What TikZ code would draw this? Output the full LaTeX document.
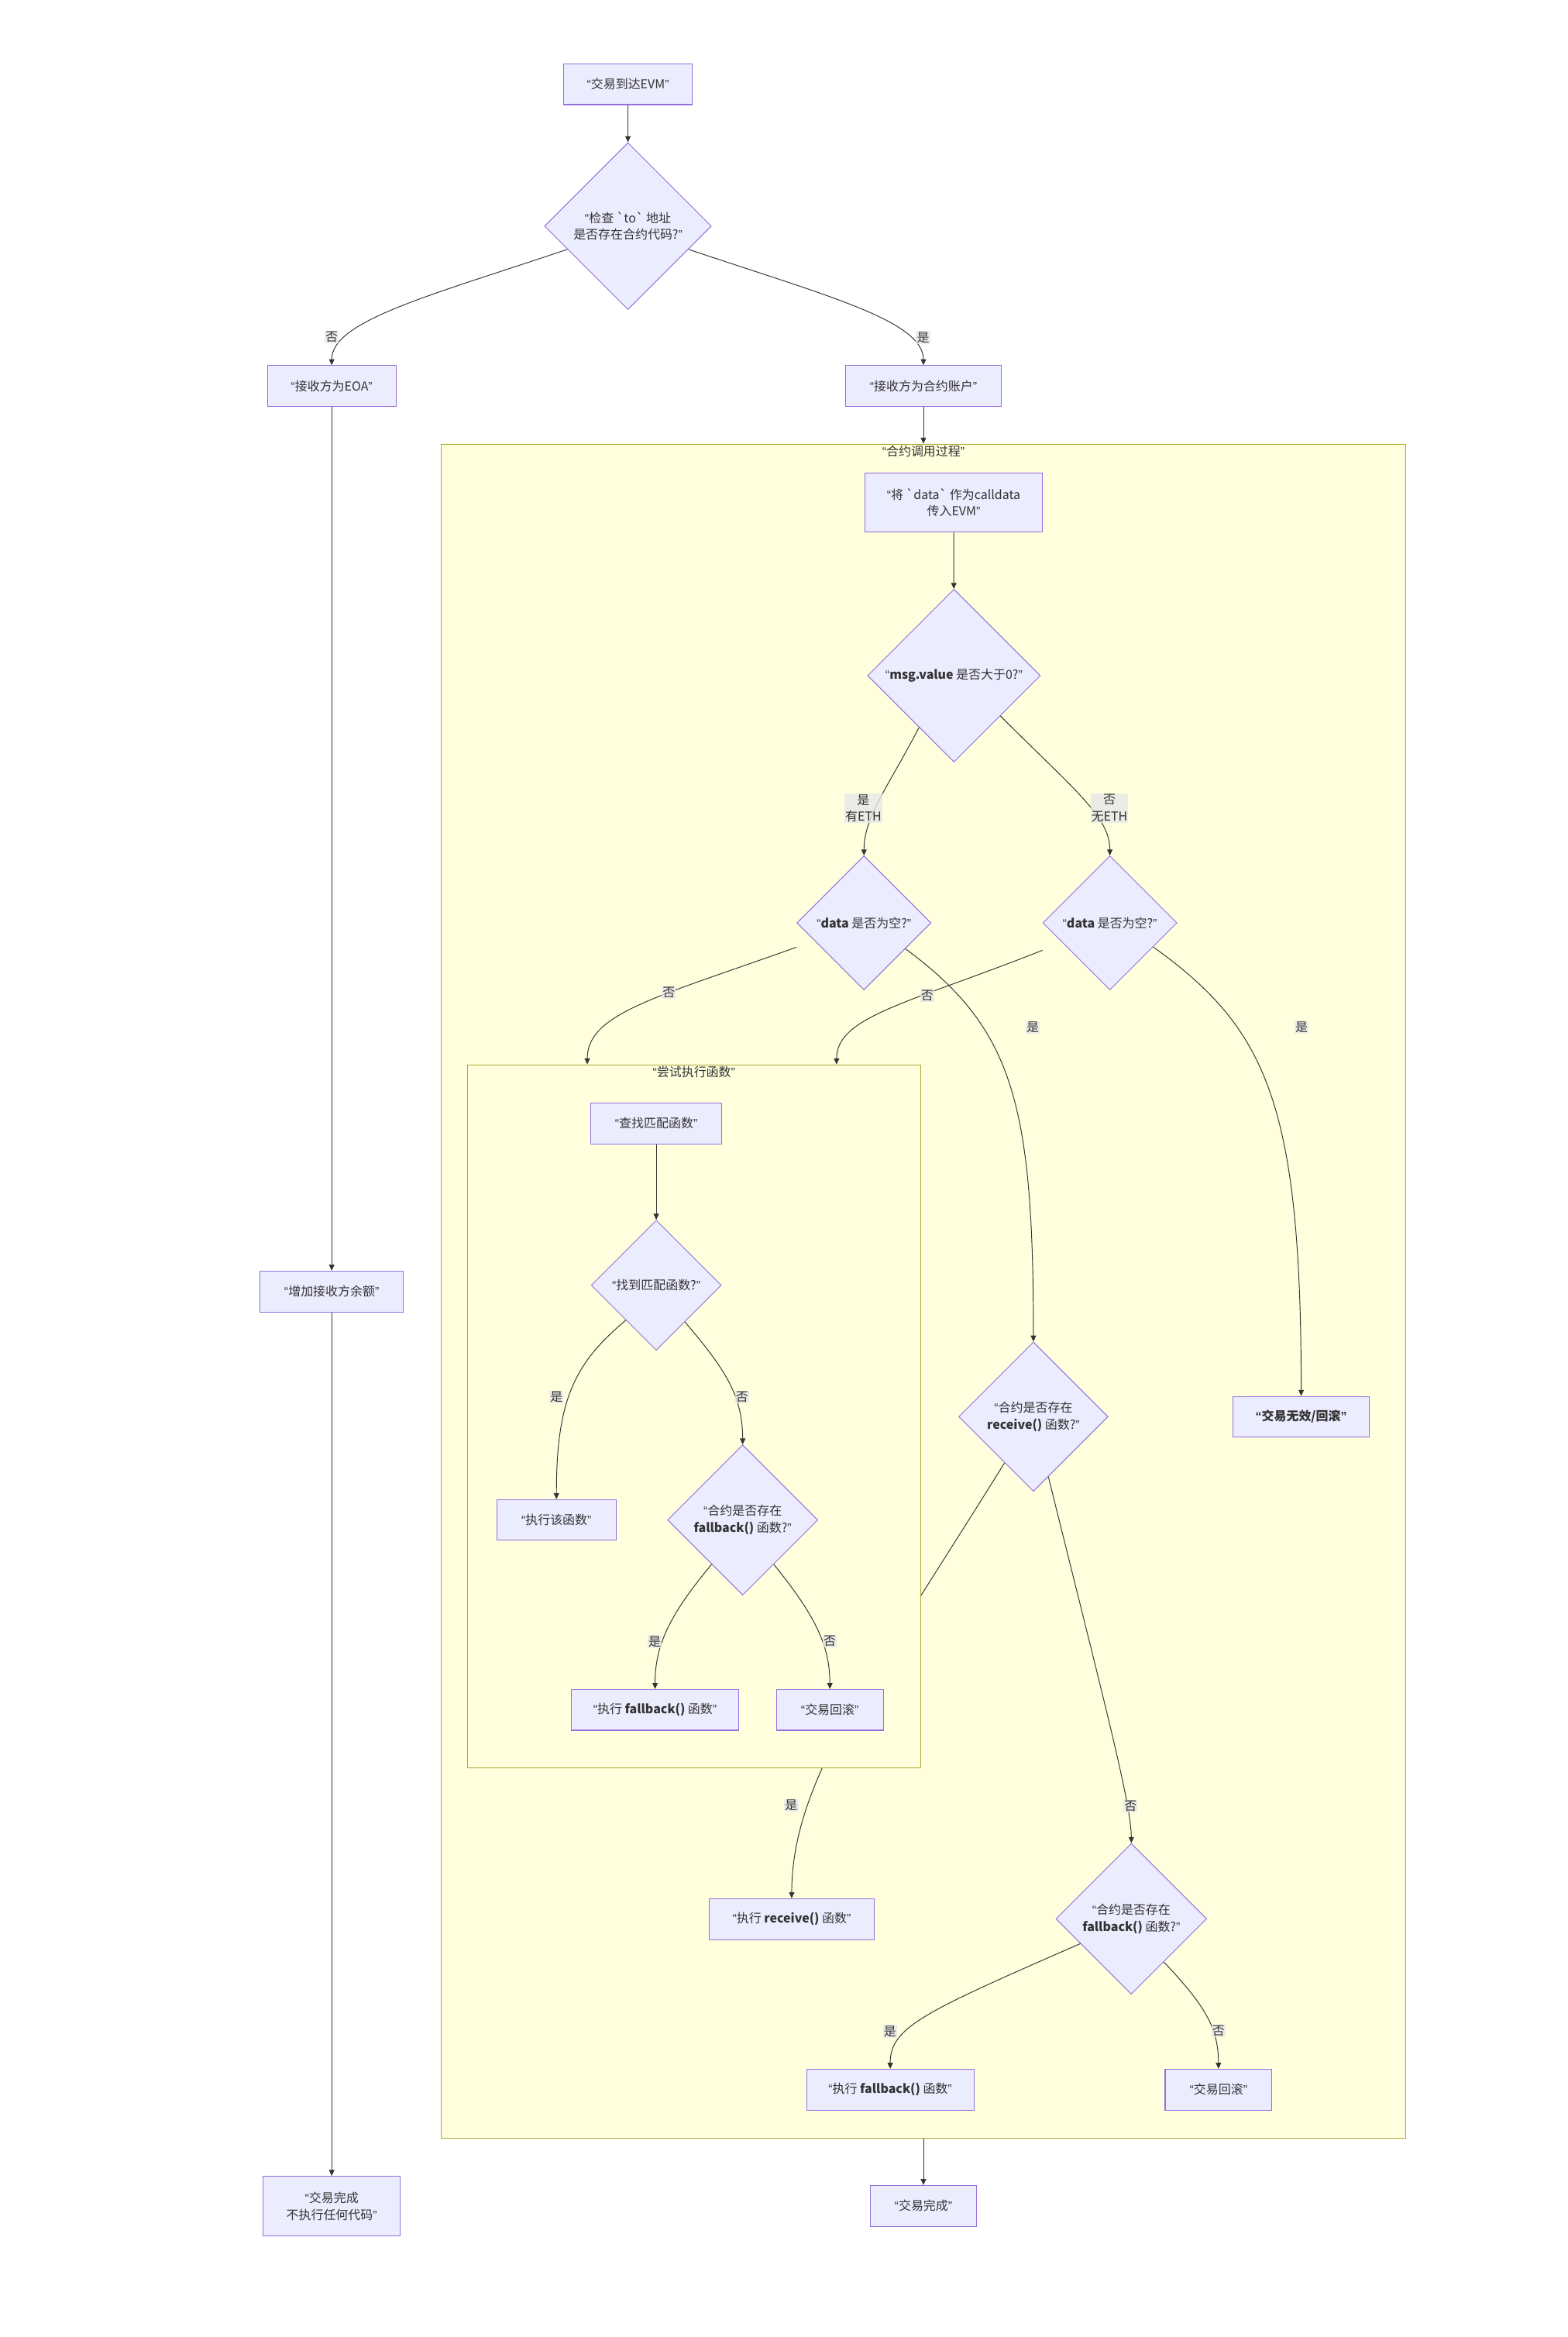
\documentclass[tikz,border=0pt]{standalone}
\usepackage{fontspec}
\setmainfont{Noto Sans CJK SC}
\newfontfamily\qfont{Liberation Sans}
\usetikzlibrary{shapes.geometric,arrows.meta,calc}
\definecolor{nodefill}{HTML}{ECECFF}
\definecolor{nodeline}{HTML}{9370DB}
\definecolor{clusterfill}{HTML}{FFFFDE}
\definecolor{clusterline}{HTML}{AAAA33}
\definecolor{edgeline}{HTML}{333333}
\definecolor{labelfill}{HTML}{E8E8E8}
\newcommand{\qo}{{\qfont “}}
\newcommand{\qc}{{\qfont ”}}
\newcommand{\bq}{\textasciigrave}
\pgfdeclarelayer{back}\pgfdeclarelayer{mid}
\pgfsetlayers{back,mid,main}

\begin{document}
\begin{tikzpicture}[x=1pt,y=-1pt,
  font=\fontsize{8.3}{11.2}\selectfont, text=edgeline,
  box/.style={draw=nodeline, fill=nodefill, line width=0.55pt, inner sep=1pt, minimum height=27.4pt, align=center},
  choice/.style={diamond, aspect=1, draw=nodeline, fill=nodefill, line width=0.5pt, inner sep=0pt, align=center},
  cluster/.style={draw=clusterline, fill=clusterfill, line width=0.55pt, inner sep=0pt},
  edge/.style={draw=edgeline, line width=0.5pt, -{Triangle[length=4pt,width=3.6pt]}},
  lbl/.style={fill=labelfill, fill opacity=0.8, text opacity=1, inner sep=0.6pt, align=center}]
\useasboundingbox (0,0) rectangle (1052.2,1568);
% left column
\node[box, minimum width=86] (arrive) at (421.4,56.5) {\qo 交易到达EVM\qc};
\node[choice, minimum size=112] (hascode) at (421.4,151.7) {\qo 检查 \bq to\bq{} 地址\\是否存在合约代码?\qc};
\node[box, minimum width=86.3] (eoa) at (222.6,259) {\qo 接收方为EOA\qc};
\node[box, minimum width=104.2] (caddr) at (619.7,259) {\qo 接收方为合约账户\qc};
\node[box, minimum width=96] (balance) at (222.6,866.5) {\qo 增加接收方余额\qc};
\node[box, minimum width=92, minimum height=40] (eoadone) at (222.6,1480.2) {\qo 交易完成\\不执行任何代码\qc};
% clusters
\begin{pgfonlayer}{back}
\node[cluster, minimum width=647.4, minimum height=1136.4] (call) at (619.7,866.2) {};
\end{pgfonlayer}
\begin{pgfonlayer}{mid}
\node[cluster, minimum width=304, minimum height=471.9] (try) at (465.7,950.35) {};
\end{pgfonlayer}
\node[anchor=north, inner sep=1pt] (calltitle) at (call.north) {\qo 合约调用过程\qc};
\node[anchor=north, inner sep=1pt] (trytitle) at (try.north) {\qo 尝试执行函数\qc};
% contract call
\node[box, minimum width=118.7, minimum height=39.6] (calldata) at (640,337.2) {\qo 将 \bq data\bq{} 作为calldata\\传入EVM\qc};
\node[choice, minimum size=116] (value) at (640.2,453.3) {\qo\textbf{msg.value} 是否大于0?\qc};
\node[choice, minimum size=90] (dataeth) at (579.8,619.2) {\qo\textbf{data} 是否为空?\qc};
\node[choice, minimum size=90] (datanoeth) at (744.8,619.2) {\qo\textbf{data} 是否为空?\qc};
\node[box, minimum width=87.7] (lookup) at (440.4,753.7) {\qo 查找匹配函数\qc};
\node[choice, minimum size=87.3] (found) at (440.4,862.3) {\qo 找到匹配函数?\qc};
\node[box, minimum width=80] (runfn) at (373.4,1019.8) {\qo 执行该函数\qc};
\node[choice, minimum size=100.8] (hasfb) at (498.4,1019.8) {\qo 合约是否存在\\\textbf{fallback()} 函数?\qc};
\node[box, minimum width=112.2] (runfb) at (439.6,1147.2) {\qo 执行 \textbf{fallback()} 函数\qc};
\node[box, minimum width=71.7] (revfb) at (556.9,1147.2) {\qo 交易回滚\qc};
\node[choice, minimum size=100.2] (hasrecv) at (693.5,950.5) {\qo 合约是否存在\\\textbf{receive()} 函数?\qc};
\node[box, minimum width=91.2] (invalid) at (873.2,950.6) {\textbf{\qo 交易无效/回滚\qc}};
\node[box, minimum width=110.6] (runrecv) at (531.3,1287.6) {\qo 执行 \textbf{receive()} 函数\qc};
\node[choice, minimum size=101.2] (hasfb2) at (759.2,1287.4) {\qo 合约是否存在\\\textbf{fallback()} 函数?\qc};
\node[box, minimum width=112.3] (runfb2) at (597.4,1402) {\qo 执行 \textbf{fallback()} 函数\qc};
\node[box, minimum width=71.6] (revfb2) at (817.7,1402) {\qo 交易回滚\qc};
\node[box, minimum width=71.2] (done) at (619.7,1480) {\qo 交易完成\qc};
% connectors
\draw[edge] (arrive) -- (hascode);
\draw[edge] (hascode.201) .. controls (290,198) and (222.6,215) .. (eoa.north);
\draw[edge] (hascode.339) .. controls (553,198) and (619.7,215) .. (caddr.north);
\draw[edge] (eoa) -- (balance);
\draw[edge] (balance) -- (eoadone);
\draw[edge] (caddr) -- (call.north);
\draw[edge] (calldata) -- (value);
\draw[edge] (value.236) .. controls (596,528) and (579.8,548) .. (dataeth.north);
\draw[edge] (value.319) .. controls (721,530) and (744.8,548) .. (datanoeth.north);
\draw[edge] ($(dataeth.west)+(0,16.3)$) .. controls (440,669.3) and (394.1,680) .. ($(try.north)+(-71.6,0)$);
\draw[edge] ($(datanoeth.west)+(0,18.4)$) .. controls (609.3,673.3) and (561.4,682) .. ($(try.north)+(95.7,0)$);
\draw[edge] (dataeth.328) .. controls (680,690) and (693.5,740) .. (hasrecv.north);
\draw[edge] (datanoeth.331) .. controls (850,690) and (873.2,740) .. (invalid.north);
\draw[edge] (lookup) -- (found);
\draw[edge] (found.229) .. controls (385,915) and (373.4,940) .. (runfn.north);
\draw[edge] (found.308) .. controls (485,917) and (498.4,935) .. (hasfb.north);
\draw[edge] (hasfb.235) .. controls (448,1085) and (439.6,1105) .. (runfb.north);
\draw[edge] (hasfb.305) .. controls (548,1085) and (556.9,1105) .. (revfb.north);
\begin{pgfonlayer}{back}
\draw[edge] (hasrecv.238) .. controls (585,1125) and (531.3,1195) .. (runrecv.north);
\end{pgfonlayer}
\draw[edge] (hasrecv.284) .. controls (740,1138) and (759.2,1210) .. (hasfb2.north);
\draw[edge] (hasfb2.206) .. controls (620,1350) and (597.4,1360) .. (runfb2.north);
\draw[edge] (hasfb2.307) .. controls (808,1345) and (817.7,1360) .. (revfb2.north);
\draw[edge] (call.south) -- (done.north);
% edge labels
\node[lbl] (l1) at (222.6,226) {否};
\node[lbl] (l2) at (619.5,226.4) {是};
\node[lbl] (l3) at (579.4,542.3) {是\\有ETH};
\node[lbl] (l4) at (744.5,542.3) {否\\无ETH};
\node[lbl] (l5) at (448.8,666.1) {否};
\node[lbl] (l6) at (622.2,668.2) {否};
\node[lbl] (l7) at (693.1,689.5) {是};
\node[lbl] (l8) at (873.4,689.5) {是};
\node[lbl] (l9) at (373.4,937.4) {是};
\node[lbl] (l10) at (498,937.4) {否};
\node[lbl] (l11) at (439.3,1101.3) {是};
\node[lbl] (l12) at (556.9,1101.3) {否};
\node[lbl] (l13) at (531,1211.2) {是};
\node[lbl] (l14) at (758.7,1212) {否};
\node[lbl] (l15) at (597.3,1362.8) {是};
\node[lbl] (l16) at (817.7,1362.8) {否};
\end{tikzpicture}
\end{document}
